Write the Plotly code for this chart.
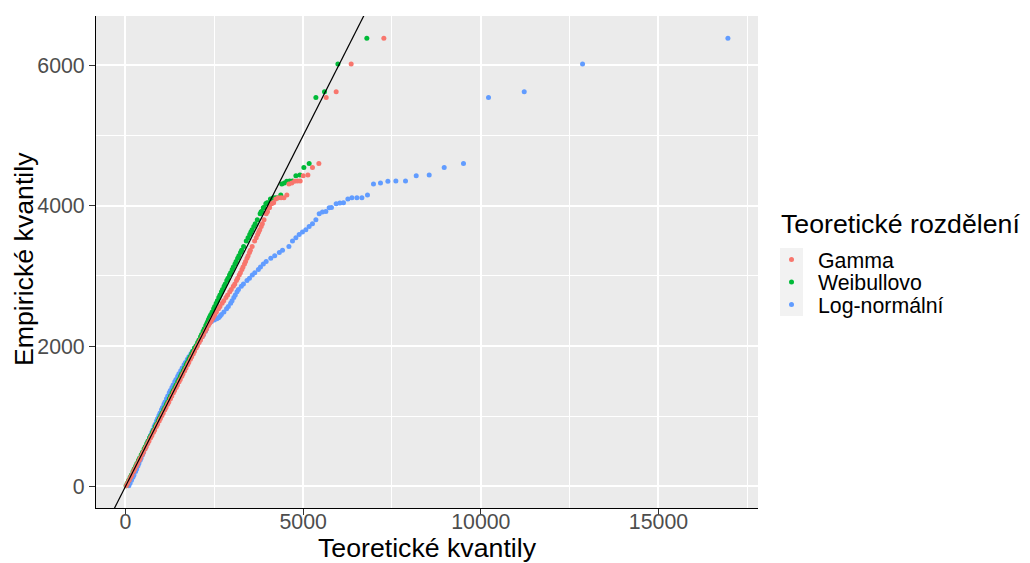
import plotly.graph_objects as go

# ---------------- data ----------------
empirical = [12, 45, 88, 131, 165, 214, 248, 293, 327, 372, 405, 451, 488, 534, 566,
             612, 647, 693, 728, 774, 806, 853, 887, 934, 968, 1012, 1047, 1093, 1126, 1172,
             1205, 1251, 1288, 1334, 1366, 1412, 1447, 1493, 1526, 1572, 1605, 1651, 1688, 1734, 1766,
             1812, 1847, 1893, 1926, 1972, 2005, 2051, 2088, 2134, 2166, 2212, 2247, 2293, 2326, 2352,
             2372, 2390, 2405, 2425, 2451, 2488, 2534, 2566, 2612, 2647, 2693, 2728, 2774, 2806, 2853,
             2887, 2934, 2968, 3012, 3047, 3093, 3126, 3172, 3205, 3251, 3288, 3334, 3366,
             3421, 3497, 3545, 3592, 3625, 3659, 3706, 3745, 3802, 3887, 3910, 3920, 3972, 3977, 4030,
             4039, 4044, 4096, 4115, 4115, 4115, 4153, 4309, 4324, 4348, 4352, 4352, 4429, 4438, 4547,
             4604, 5545, 5626, 6020, 6386]

gamma_q = [25, 60, 104, 147, 181, 230, 264, 309, 343, 388, 421, 467, 504, 550, 582,
           628, 663, 709, 744, 790, 822, 869, 903, 950, 984, 1028, 1063, 1109, 1142, 1188,
           1221, 1267, 1304, 1350, 1382, 1428, 1463, 1509, 1542, 1588, 1621, 1667, 1704, 1750, 1782,
           1828, 1864, 1910, 1943, 1990, 2025, 2073, 2112, 2160, 2195, 2245, 2283, 2333, 2370, 2400,
           2424, 2445, 2462, 2485, 2515, 2560, 2618, 2660, 2720, 2767, 2828, 2875, 2935, 2977, 3035,
           3077, 3124, 3158, 3202, 3235, 3278, 3308, 3350, 3380, 3420, 3452, 3490, 3515,
           3565, 3635, 3680, 3720, 3750, 3780, 3820, 3852, 3900, 3960, 3985, 3995, 4040, 4055, 4105,
           4140, 4170, 4230, 4300, 4380, 4460, 4542, 4600, 4680, 4760, 4840, 4917, 5002, 5134, 5263,
           5443, 5649, 5930, 6352, 7272]

weibull_q = [18, 50, 92, 133, 166, 213, 246, 290, 323, 367, 399, 444, 480, 525, 557,
             602, 636, 681, 716, 761, 793, 839, 873, 919, 953, 996, 1031, 1076, 1109, 1154,
             1187, 1232, 1268, 1313, 1345, 1390, 1425, 1470, 1503, 1548, 1581, 1626, 1663, 1708, 1740,
             1785, 1820, 1865, 1898, 1944, 1990, 2033, 2068, 2112, 2142, 2185, 2218, 2261, 2292, 2316,
             2334, 2350, 2363, 2381, 2405, 2440, 2482, 2511, 2553, 2585, 2627, 2659, 2702, 2732, 2776,
             2808, 2852, 2885, 2928, 2961, 3005, 3037, 3082, 3114, 3158, 3193, 3238, 3269,
             3325, 3400, 3450, 3497, 3530, 3565, 3612, 3652, 3710, 3790, 3815, 3830, 3880, 3895, 3950,
             3975, 4000, 4080, 4160, 4230, 4300, 4370, 4400, 4470, 4540, 4620, 4700, 4796, 4909, 5021,
             5170, 5359, 5601, 5978, 6793]

lognorm_q = [95, 130, 170, 210, 240, 285, 315, 350, 378, 415, 442, 480, 510, 548, 575,
             610, 640, 678, 706, 745, 772, 810, 838, 876, 905, 943, 973, 1013, 1042, 1083,
             1112, 1155, 1190, 1233, 1263, 1308, 1342, 1388, 1422, 1470, 1505, 1555, 1597, 1650, 1688,
             1742, 1785, 1843, 1885, 1945, 1990, 2050, 2100, 2160, 2200, 2250, 2285, 2320, 2350, 2420,
             2500, 2570, 2620, 2660, 2700, 2770, 2845, 2895, 2960, 3000, 3050, 3090, 3140, 3180, 3260,
             3320, 3420, 3490, 3570, 3640, 3740, 3800, 3880, 3960, 4090, 4200, 4330, 4420,
             4600, 4700, 4796, 4889, 4982, 5077, 5170, 5263, 5359, 5452, 5545, 5640, 5733, 5798, 5930,
             6034, 6136, 6259, 6372, 6513, 6654, 6811, 6980, 7177, 7385, 7610, 7881, 8182, 8548, 8970,
             9513, 10217, 11222, 12863, 16954]

series_names = ["Gamma", "Weibullovo", "Log-normální"]
series_colors = ["#F8766D", "#00BA38", "#619CFF"]
theoretical = [gamma_q, weibull_q, lognorm_q]

x_tick_vals = [0, 5000, 10000, 15000]
x_tick_text = ["0", "5000", "10000", "15000"]
y_tick_vals = [0, 2000, 4000, 6000]
y_tick_text = ["0", "2000", "4000", "6000"]

ref_slope = 1.0
ref_intercept = 0.0

legend_title = "Teoretické rozdělení"
x_title = "Teoretické kvantily"
y_title = "Empirické kvantily"

# ---------------- figure ----------------
FONT = "Liberation Sans, Arial, sans-serif"
OFF = 8                      # page body margin of the html page
W, H = 1030 - OFF, 563 - OFF
ML, MR, MT, MB = 96 - OFF, 272, 16 - OFF, 55

all_x = [v for s in theoretical for v in s]
xmin, xmax = min(all_x), max(all_x)
ymin, ymax = min(empirical), max(empirical)
xr = [xmin - 0.05 * (xmax - xmin), xmax + 0.05 * (xmax - xmin)]
yr = [ymin - 0.05 * (ymax - ymin), ymax + 0.05 * (ymax - ymin)]

fig = go.Figure()
for i in [2, 1, 0]:
    fig.add_trace(go.Scatter(
        x=theoretical[i], y=empirical, mode="markers", name=series_names[i],
        marker=dict(size=5, color=series_colors[i], line=dict(width=0)),
        showlegend=False, cliponaxis=True))

fig.add_trace(go.Scatter(
    x=xr, y=[ref_intercept + ref_slope * v for v in xr], mode="lines",
    line=dict(color="black", width=1.2), showlegend=False, hoverinfo="skip"))

axis_common = dict(
    showline=True, linecolor="black", linewidth=1.1, mirror=False,
    ticks="outside", ticklen=6, tickwidth=1.1, tickcolor="#333333",
    tickfont=dict(family=FONT, size=21.3, color="#4D4D4D"),
    gridcolor="white", gridwidth=1.8, zeroline=False, automargin=False,
)

fig.update_layout(
    width=W, height=H,
    margin=dict(l=ML, r=MR, t=MT, b=MB, pad=0, autoexpand=False),
    paper_bgcolor="white", plot_bgcolor="#EBEBEB",
    showlegend=False,
    xaxis=dict(range=xr, tickmode="array", tickvals=x_tick_vals, ticktext=x_tick_text,
               minor=dict(tickvals=[2500, 7500, 12500, 17500], showgrid=True,
                          gridcolor="white", gridwidth=0.9),
               ticklabelstandoff=-12,
               title=dict(text=x_title, font=dict(family=FONT, size=26.7, color="black"),
                          standoff=1),
               **axis_common),
    yaxis=dict(range=yr, tickmode="array", tickvals=y_tick_vals, ticktext=y_tick_text,
               minor=dict(tickvals=[1000, 3000, 5000], showgrid=True,
                          gridcolor="white", gridwidth=0.9),
               **axis_common),
)

# ---------------- helpers: window pixel -> paper coords ----------------
pw, ph = W - ML - MR, H - MT - MB
def px(xw):
    return (xw - OFF - ML) / pw
def py(yw):
    return (H - MB - (yw - OFF)) / ph

# y-axis title (rotated)
fig.add_annotation(xref="paper", yref="paper", x=px(24), y=py(259), text=y_title,
                   textangle=-90, showarrow=False, xanchor="center", yanchor="middle",
                   font=dict(family=FONT, size=26.7, color="black"))

# ---------------- manual legend (ggplot style) ----------------
shapes = [dict(type="rect", xref="paper", yref="paper", x0=px(780), x1=px(803),
               y0=py(316), y1=py(248), fillcolor="#F2F2F2", line=dict(width=0), layer="above")]
key_y = [259.5, 282, 304.5]
for i, name in enumerate(series_names):
    shapes.append(dict(type="circle", xref="paper", yref="paper",
                       xsizemode="pixel", ysizemode="pixel",
                       xanchor=px(791.5), yanchor=py(key_y[i]),
                       x0=-2.5, x1=2.5, y0=-2.5, y1=2.5,
                       fillcolor=series_colors[i], line=dict(width=0), layer="above"))
    fig.add_annotation(xref="paper", yref="paper", x=px(816), y=py(key_y[i] + 1),
                       text=name, showarrow=False, xanchor="left", yanchor="middle",
                       font=dict(family=FONT, size=21.3, color="black"))
fig.add_annotation(xref="paper", yref="paper", x=px(779), y=py(224),
                   text=legend_title, showarrow=False, xanchor="left", yanchor="middle",
                   font=dict(family=FONT, size=26.7, color="black"))
fig.update_layout(shapes=shapes)

fig.write_html("out.html")
